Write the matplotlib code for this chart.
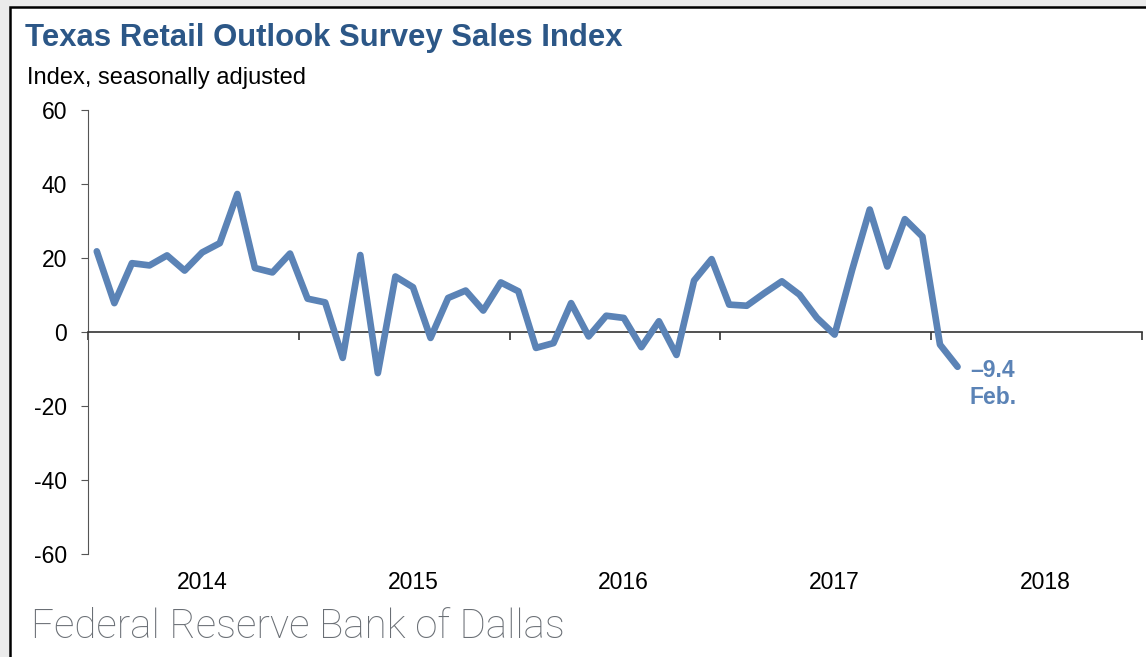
import numpy as np
import matplotlib.pyplot as plt
from matplotlib.patches import Rectangle

# monthly sales index, Jan 2014 .. Feb 2018
sales = [21.8, 7.8, 18.6, 18.0, 20.7, 16.6, 21.5, 24.0, 37.3, 17.3, 16.1, 21.2,
         9.0, 8.0, -7.0, 20.8, -11.1, 15.0, 12.1, -1.6, 9.2, 11.2, 5.8, 13.4,
         11.0, -4.3, -3.0, 7.8, -1.2, 4.4, 3.8, -4.1, 2.9, -6.2, 13.9, 19.7,
         7.4, 7.1, 10.5, 13.7, 10.1, 3.8, -0.7, 16.8, 33.1, 17.7, 30.5, 25.8,
         -3.4, -9.4]
years = ['2014', '2015', '2016', '2017', '2018']
yticks = [60, 40, 20, 0, -20, -40, -60]

line_col = '#5b83b6'
title_col = '#2c5787'

plt.rcParams['font.family'] = ['Liberation Sans', 'DejaVu Sans']

fig = plt.figure(figsize=(11.46, 6.57), dpi=100)
fig.patch.set_facecolor('#ebebeb')
# white chart panel with black frame on left/top
fig.patches.append(Rectangle((10/1146, -0.05), 1.1, 1 - 7/657 + 0.05,
                             transform=fig.transFigure, facecolor='white',
                             edgecolor='black', lw=1.8, zorder=-1))

ax = fig.add_axes([88/1146, 1 - 554/657, (1142 - 88)/1146, (554 - 110)/657])
ax.set_facecolor('none')

x = np.arange(len(sales))
ax.plot(x, sales, color=line_col, lw=4.8, solid_joinstyle='round',
        solid_capstyle='round', zorder=3)

ax.set_xlim(-0.5, 59.5)
ax.set_ylim(-60, 60)

for s in ['top', 'right']:
    ax.spines[s].set_visible(False)
ax.spines['bottom'].set_position(('data', 0))
ax.spines['bottom'].set_color('#333333')
ax.spines['left'].set_color('#555555')
ax.spines['bottom'].set_linewidth(1.2)

ax.set_yticks(yticks)
ax.set_yticklabels([str(v) for v in yticks], fontsize=16.5)
ax.tick_params(axis='y', direction='out', length=5, color='#555555', pad=10)

ax.set_xticks(np.arange(-0.5, 60, 12))
ax.set_xticklabels([])
ax.tick_params(axis='x', direction='out', length=6, width=1.2, color='#333333')

for i, yr in enumerate(years):
    ax.text(6 + 12*i, -0.065, yr, transform=ax.get_xaxis_transform(),
            ha='center', va='center', fontsize=16.5)

ax.text(len(sales) - 0.3, sales[-1] - 1.1, '\u20139.4', color=line_col, fontsize=16.5,
        fontweight='bold', ha='left', va='center')
ax.text(len(sales) - 0.3, sales[-1] - 8.2, 'Feb.', color=line_col, fontsize=16.5,
        fontweight='bold', ha='left', va='center')

fig.text(25/1146, 1 - 38/657, 'Texas Retail Outlook Survey Sales Index',
         color=title_col, fontsize=22.4, fontweight='bold', va='center')
fig.text(27/1146, 1 - 78/657, 'Index, seasonally adjusted',
         fontsize=17, va='center')
fig.text(31/1146, 1 - 627/657, 'Federal Reserve Bank of Dallas',
         color='#6a6f75', fontsize=29, va='center',
         family=['Roboto', 'DejaVu Sans'], fontweight='light')

fig.savefig('out.png', dpi=100, facecolor=fig.get_facecolor())
